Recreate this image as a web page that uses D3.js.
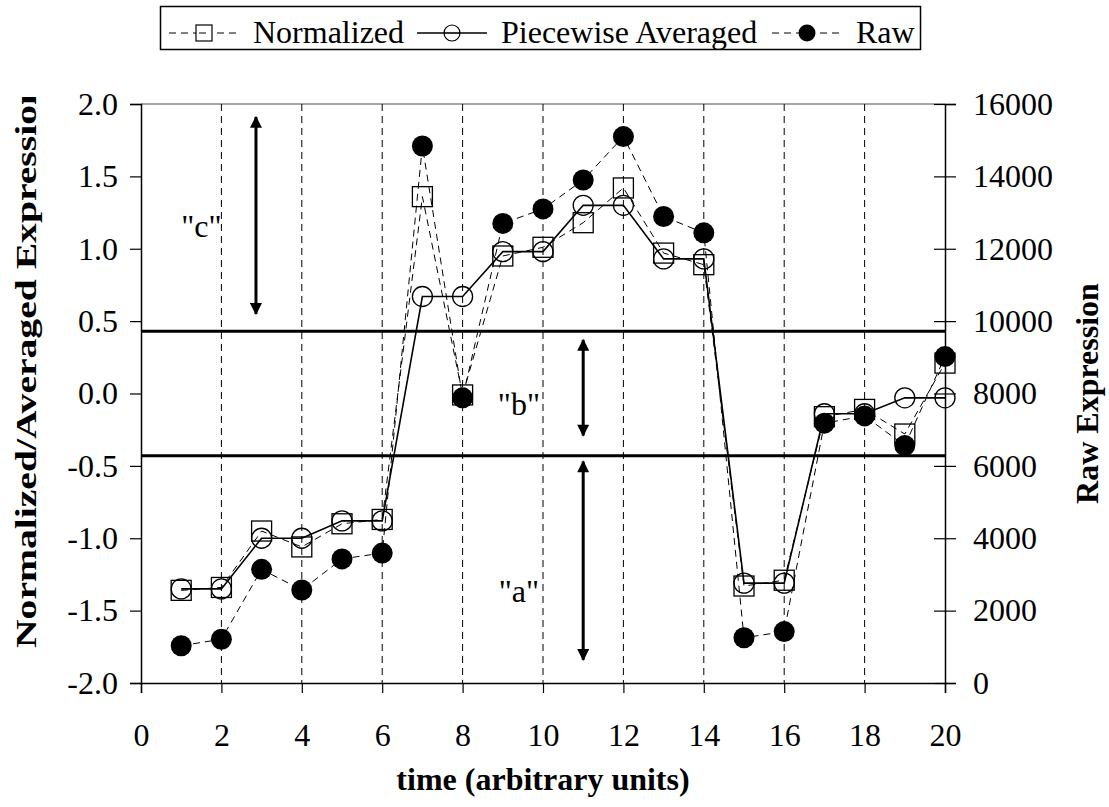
<!DOCTYPE html>
<html>
<head>
<meta charset="utf-8">
<script src="https://cdn.jsdelivr.net/npm/d3@7"></script>
<style>
  body { margin: 0; background: #fff; }
  svg text { font-family: "Liberation Serif", "Times New Roman", serif; }
</style>
</head>
<body>
<script>
// time points
var time = [1,2,3,4,5,6,7,8,9,10,11,12,13,14,15,16,17,18,19,20];
// normalized expression (left axis)
var normalized = [-1.36,-1.34,-0.95,-1.06,-0.90,-0.87,1.36,-0.01,0.95,1.01,
                  1.18,1.42,0.97,0.89,-1.33,-1.29,-0.16,-0.11,-0.28,0.21];
// piecewise averaged (left axis)
var averaged = [-1.35,-1.35,-1.00,-1.00,-0.88,-0.88,0.67,0.67,0.98,0.98,
                1.30,1.30,0.93,0.93,-1.31,-1.31,-0.14,-0.14,-0.03,-0.03];
// raw expression (right axis)
var raw = [1030,1210,3140,2570,3430,3590,14840,7880,12700,13100,
           13900,15100,12890,12440,1250,1420,7180,7380,6560,9020];

var xTicks = [0,2,4,6,8,10,12,14,16,18,20];
var gridTicks = [2,4,6,8,10,12,14,16,18];
var leftTicks = [-2,-1.5,-1,-0.5,0,0.5,1,1.5,2];
var rightTicks = [0,2000,4000,6000,8000,10000,12000,14000,16000];
var thresholds = [0.43,-0.43];
// annotation arrows (data units) and labels
var arrows = [
  {x: 2.86, y1: 1.91, y2: 0.55},
  {x: 11, y1: 0.37, y2: -0.29},
  {x: 11, y1: -0.47, y2: -1.84}
];
var labels = [
  {x: 1.5, y: 1.08, t: '"c"'},
  {x: 9.4, y: -0.15, t: '"b"'},
  {x: 9.4, y: -1.44, t: '"a"'}
];

var w = 1109, h = 807;
var pLeft = 141, pRight = 945, pTop = 104, pBottom = 683;

var svg = d3.select("body").append("svg")
  .attr("width", w).attr("height", h);

var x = d3.scaleLinear().domain([0, 20]).range([pLeft, pRight]);
var yL = d3.scaleLinear().domain([-2, 2]).range([pBottom, pTop]);
var yR = d3.scaleLinear().domain([0, 16000]).range([pBottom, pTop]);

// top border
svg.append("line")
  .attr("x1", pLeft).attr("x2", pRight).attr("y1", pTop).attr("y2", pTop)
  .attr("stroke", "#888").attr("stroke-width", 1.5);

// vertical dashed grid
svg.selectAll(".grid")
  .data(gridTicks).enter().append("line")
  .attr("x1", function(d){ return x(d); })
  .attr("x2", function(d){ return x(d); })
  .attr("y1", pTop).attr("y2", pBottom)
  .attr("stroke", "#000").attr("stroke-width", 1)
  .attr("stroke-dasharray", "7,5");

// threshold lines
svg.selectAll(".thr")
  .data(thresholds).enter().append("line")
  .attr("x1", pLeft).attr("x2", pRight)
  .attr("y1", function(d){ return yL(d); })
  .attr("y2", function(d){ return yL(d); })
  .attr("stroke", "#000").attr("stroke-width", 3);

// axes
var fontSize = "32px";
var gL = svg.append("g").attr("transform", "translate(" + pLeft + ",0)")
  .call(d3.axisLeft(yL).tickValues(leftTicks).tickSize(11).tickPadding(12)
        .tickFormat(function(d){ return d.toFixed(1); }));
var gR = svg.append("g").attr("transform", "translate(" + pRight + ",0)")
  .call(d3.axisRight(yR).tickValues(rightTicks).tickSize(11).tickPadding(17)
        .tickFormat(function(d){ return d; }));
gR.selectAll(".tick line").attr("x1", -11);
var gB = svg.append("g").attr("transform", "translate(0," + pBottom + ")")
  .call(d3.axisBottom(x).tickValues(xTicks).tickSize(10).tickPadding(30)
        .tickFormat(function(d){ return d; }));

[gL, gR, gB].forEach(function(g){
  g.select(".domain").attr("stroke", "#000").attr("stroke-width", 1.5);
  g.selectAll(".tick line").attr("stroke", "#000").attr("stroke-width", 1.2);
  g.selectAll("text")
    .attr("font-family", "Liberation Serif")
    .attr("font-size", fontSize).attr("fill", "#000");
});

// annotation arrows
var defs = svg.append("defs");
defs.append("marker").attr("id", "head")
  .attr("viewBox", "0 0 10 10").attr("refX", 9).attr("refY", 5)
  .attr("markerWidth", 4.2).attr("markerHeight", 4)
  .attr("markerUnits", "strokeWidth")
  .attr("orient", "auto-start-reverse")
  .append("path").attr("d", "M0,0L10,5L0,10Z").attr("fill", "#000");

svg.selectAll(".arrow")
  .data(arrows).enter().append("line")
  .attr("x1", function(d){ return x(d.x); })
  .attr("x2", function(d){ return x(d.x); })
  .attr("y1", function(d){ return yL(d.y1); })
  .attr("y2", function(d){ return yL(d.y2); })
  .attr("stroke", "#000").attr("stroke-width", 3)
  .attr("marker-start", "url(#head)")
  .attr("marker-end", "url(#head)");

svg.selectAll(".ann")
  .data(labels).enter().append("text")
  .attr("x", function(d){ return x(d.x); })
  .attr("y", function(d){ return yL(d.y); })
  .attr("text-anchor", "middle")
  .attr("font-size", fontSize)
  .text(function(d){ return d.t; });

// series lines
var lineL = function(vals){
  return d3.line()
    .x(function(d, i){ return x(time[i]); })
    .y(function(d){ return yL(d); })(vals);
};
var lineR = d3.line()
  .x(function(d, i){ return x(time[i]); })
  .y(function(d){ return yR(d); });

svg.append("path").attr("d", lineL(normalized))
  .attr("fill", "none").attr("stroke", "#000").attr("stroke-width", 1)
  .attr("stroke-dasharray", "7,5");
svg.append("path").attr("d", lineL(averaged))
  .attr("fill", "none").attr("stroke", "#000").attr("stroke-width", 1.6);
svg.append("path").attr("d", lineR(raw))
  .attr("fill", "none").attr("stroke", "#000").attr("stroke-width", 1)
  .attr("stroke-dasharray", "7,5");

// markers
var sq = 20;
svg.selectAll(".sq")
  .data(normalized).enter().append("rect")
  .attr("x", function(d, i){ return x(time[i]) - sq / 2; })
  .attr("y", function(d){ return yL(d) - sq / 2; })
  .attr("width", sq).attr("height", sq)
  .attr("fill", "none").attr("stroke", "#000").attr("stroke-width", 1.3);

svg.selectAll(".oc")
  .data(averaged).enter().append("circle")
  .attr("cx", function(d, i){ return x(time[i]); })
  .attr("cy", function(d){ return yL(d); })
  .attr("r", 10)
  .attr("fill", "none").attr("stroke", "#000").attr("stroke-width", 1.3);

svg.selectAll(".fc")
  .data(raw).enter().append("circle")
  .attr("cx", function(d, i){ return x(time[i]); })
  .attr("cy", function(d){ return yR(d); })
  .attr("r", 10.5)
  .attr("fill", "#000");

// axis titles
defs.append("clipPath").attr("id", "ylabclip")
  .append("rect").attr("x", 0).attr("y", 97).attr("width", 80).attr("height", 700);

svg.append("g").attr("clip-path", "url(#ylabclip)")
  .append("text")
  .attr("transform", "translate(36,648) rotate(-90)")
  .attr("font-size", "30px").attr("font-weight", "bold")
  .attr("textLength", 565).attr("lengthAdjust", "spacingAndGlyphs")
  .text("Normalized/Averaged Expression");

svg.append("text")
  .attr("transform", "translate(1098," + ((pTop + pBottom) / 2) + ") rotate(-90)")
  .attr("text-anchor", "middle")
  .attr("font-size", "32px").attr("font-weight", "bold")
  .text("Raw Expression");

svg.append("text")
  .attr("x", (pLeft + pRight) / 2).attr("y", 790)
  .attr("text-anchor", "middle")
  .attr("font-size", "32px").attr("font-weight", "bold")
  .text("time (arbitrary units)");

// legend
var lg = svg.append("g");
lg.append("rect").attr("x", 160.5).attr("y", 6.5).attr("width", 760).attr("height", 43)
  .attr("fill", "#fff").attr("stroke", "#000").attr("stroke-width", 1.5);
var ly = 33;
var legendItems = [
  {name: "Normalized", x0: 169, dash: "7,5", sw: 1, mark: "sq"},
  {name: "Piecewise Averaged", x0: 417, dash: null, sw: 1.6, mark: "oc"},
  {name: "Raw", x0: 772, dash: "7,5", sw: 1, mark: "fc"}
];
legendItems.forEach(function(d){
  var cx = d.x0 + 35;
  lg.append("line").attr("x1", d.x0).attr("x2", d.x0 + 70)
    .attr("y1", ly).attr("y2", ly)
    .attr("stroke", "#000").attr("stroke-width", d.sw)
    .attr("stroke-dasharray", d.dash);
  if (d.mark === "sq") {
    lg.append("rect").attr("x", cx - 8).attr("y", ly - 8).attr("width", 16).attr("height", 16)
      .attr("fill", "#fff").attr("stroke", "#000").attr("stroke-width", 1.2);
    lg.append("line").attr("x1", cx - 5).attr("x2", cx + 5).attr("y1", ly).attr("y2", ly)
      .attr("stroke", "#000").attr("stroke-width", 1).attr("stroke-dasharray", "7,5");
  } else if (d.mark === "oc") {
    lg.append("circle").attr("cx", cx).attr("cy", ly).attr("r", 8)
      .attr("fill", "#fff").attr("stroke", "#000").attr("stroke-width", 1.2);
    lg.append("line").attr("x1", cx - 8).attr("x2", cx + 8).attr("y1", ly).attr("y2", ly)
      .attr("stroke", "#000").attr("stroke-width", 1.6);
  } else {
    lg.append("circle").attr("cx", cx).attr("cy", ly).attr("r", 8.5).attr("fill", "#000");
  }
  lg.append("text").attr("x", d.x0 + 84).attr("y", ly + 10)
    .attr("font-size", "32px").text(d.name);
});
</script>
</body>
</html>
